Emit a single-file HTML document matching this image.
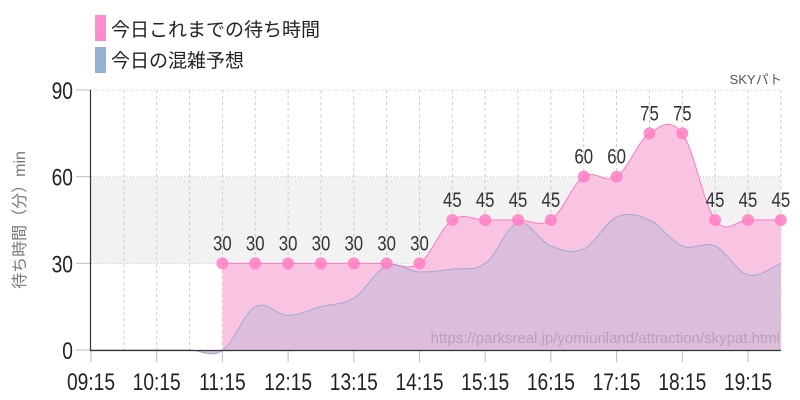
<!DOCTYPE html>
<html><head><meta charset="utf-8"><style>
body{margin:0;background:#fff;width:800px;height:400px;overflow:hidden}
svg{display:block}
text{font-family:"Liberation Sans","Noto Sans CJK JP",sans-serif}
</style></head><body>
<svg id="s" width="800" height="400" xmlns="http://www.w3.org/2000/svg">
<rect x="95" y="15" width="11" height="26" fill="#ff8ccb"/>
<text x="111" y="36" font-size="19" fill="#222">今日これまでの待ち時間</text>
<rect x="95" y="47" width="11" height="26" fill="#92b2d0"/>
<text x="111" y="67" font-size="19" fill="#222">今日の混雑予想</text>
<text x="782" y="84" font-size="13" fill="#555" text-anchor="end">SKYパト</text>
<rect x="91" y="177" width="690" height="86.7" fill="#f2f2f2"/>
<g id="grid"></g>
<g id="areas"></g>
<text x="780" y="343" font-size="15" fill="#b9a0b9" text-anchor="end">https://parksreal.jp/yomiuriland/attraction/skypat.html</text>
<line x1="90.5" y1="90" x2="90.5" y2="351" stroke="#333" stroke-width="1.2"/>
<line x1="90" y1="350.5" x2="781" y2="350.5" stroke="#333" stroke-width="1.2"/>
<g id="lab"></g>
<text transform="translate(25,220) rotate(-90)" font-size="16" fill="#777" text-anchor="middle">待ち時間（分）min</text>
</svg>
<script>
const NS="http://www.w3.org/2000/svg";
const X=i=>91+32.85*i, Y=v=>350-v*2.889;
function el(p,t,a,txt){const e=document.createElementNS(NS,t);for(const k in a)e.setAttribute(k,a[k]);if(txt!=null)e.textContent=txt;document.getElementById(p).appendChild(e);return e;}
for(let i=1;i<=21;i++)el("grid","line",{x1:X(i),x2:X(i),y1:90,y2:350,stroke:"#ccc","stroke-dasharray":"3,3"});
[90,60,30].forEach(v=>el("grid","line",{x1:91,x2:781,y1:Y(v),y2:Y(v),stroke:"#c8c8c8","stroke-dasharray":"1,2"}));
[90,60,30,0].forEach(v=>{el("grid","line",{x1:76,x2:90,y1:Y(v),y2:Y(v),stroke:"#bbb"});
 el("lab","text",{x:73/0.8,y:Y(v)+9,"font-size":24,fill:"#222","text-anchor":"end",transform:"scale(0.8,1)"},String(v));});
for(let h=0;h<11;h++){const x=X(h*2);el("grid","line",{x1:x,x2:x,y1:350,y2:362,stroke:"#bbb"});
 el("lab","text",{x:x/0.8,y:390,"font-size":24,fill:"#222","text-anchor":"middle",transform:"scale(0.8,1)"},(9+h<10?"0":"")+(9+h)+":15");}
function path(pts){let d=`M${pts[0][0]},${pts[0][1]}`;for(let i=0;i<pts.length-1;i++){const p0=pts[i-1]||pts[i],p1=pts[i],p2=pts[i+1],p3=pts[i+2]||p2;const t=0.18;
 d+=`C${p1[0]+(p2[0]-p0[0])*t},${p1[1]+(p2[1]-p0[1])*t} ${p2[0]-(p3[0]-p1[0])*t},${p2[1]-(p3[1]-p1[1])*t} ${p2[0]},${p2[1]}`;}return d;}
const pv=[30,30,30,30,30,30,30,45,45,45,45,60,60,75,75,45,45,45];
const pp=pv.map((v,k)=>[X(k+4),Y(v)]);
const pd=path(pp);
el("areas","path",{d:pd+`L${X(21)},350L${X(4)},350Z`,fill:"#f9c4e2"});
el("areas","path",{d:pd,fill:"none",stroke:"#ff78c0","stroke-width":1});
const bv=[0,0,0,0,-0.2,15,12,15,18,29,27,28,30,44,36,35,46,45,36,36,26,30];
const bp=bv.map((v,i)=>[X(i),Y(v)]);
const bd=path(bp);
el("areas","path",{d:bd+`L${X(21)},350L${X(0)},350Z`,fill:"#dcbddc"});
el("areas","path",{d:bd,fill:"none",stroke:"#9eacd0","stroke-width":1});
pp.forEach((p,k)=>{el("areas","circle",{cx:p[0],cy:p[1],r:6,fill:"#ff7ec4",opacity:0.85});
 el("lab","text",{x:p[0]/0.8,y:p[1]-13,"font-size":21,fill:"#333","text-anchor":"middle",transform:"scale(0.8,1)"},String(pv[k]));});
</script>
</body></html>
